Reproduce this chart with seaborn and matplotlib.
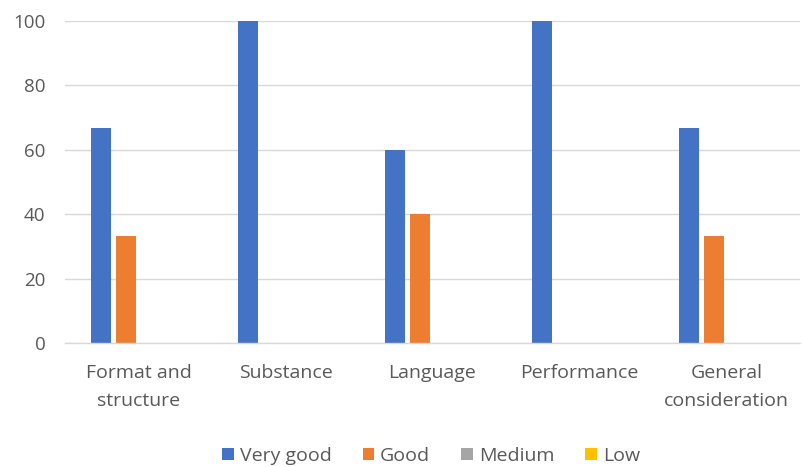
import matplotlib
matplotlib.use("Agg")
import matplotlib.pyplot as plt
import seaborn as sns
import pandas as pd
from matplotlib.patches import Patch

categories = ["Format and\nstructure", "Substance", "Language", "Performance", "General\nconsideration"]
series = ["Very good", "Good", "Medium", "Low"]
very_good = [66.7, 100, 60, 100, 66.7]
good = [33.3, 0, 40, 0, 33.3]
medium = [0, 0, 0, 0, 0]
low = [0, 0, 0, 0, 0]
colors = ["#4472C4", "#ED7D31", "#A5A5A5", "#FFC000"]

rows = []
for name, vals in zip(series, [very_good, good, medium, low]):
    for c, v in zip(categories, vals):
        rows.append({"category": c, "series": name, "value": v})
df = pd.DataFrame(rows)

sns.set_theme(style="white")
plt.rcParams["font.family"] = ["Open Sans", "DejaVu Sans"]

fig = plt.figure(figsize=(8.02, 4.67), dpi=100)
ax = fig.add_axes([65/802, 124/467, 735/802, 322/467])

sns.barplot(data=df, x="category", y="value", hue="series", hue_order=series,
            order=categories, palette=colors, saturation=1, width=0.68, gap=0.22,
            linewidth=0, ax=ax, legend=False, errorbar=None)

ax.set_ylim(0, 100)
ax.set_xlim(-0.5, len(categories) - 0.5)
ax.set_yticks([0, 20, 40, 60, 80, 100])
ax.yaxis.grid(True, color="#D9D9D9", linewidth=1)
ax.set_axisbelow(True)
for s in ["top", "right", "left"]:
    ax.spines[s].set_visible(False)
ax.spines["bottom"].set_color("#D9D9D9")
ax.spines["bottom"].set_linewidth(1)
ax.set_xlabel("")
ax.set_ylabel("")
ax.tick_params(axis="y", length=0, labelsize=13.5, colors="#595959", pad=14)
ax.tick_params(axis="x", length=0, labelsize=14, colors="#595959", pad=15)
for lbl in ax.get_xticklabels():
    lbl.set_linespacing(1.75)

handles = [Patch(facecolor=c, edgecolor="none") for c in colors]
fig.legend(handles, series, loc="center", bbox_to_anchor=(431/802, 1 - 456/467),
           ncol=4, frameon=False, fontsize=14, handlelength=0.6, handleheight=0.6,
           handletextpad=0.3, columnspacing=1.6, labelcolor="#595959")

fig.savefig("out.png", dpi=100, facecolor="white")
